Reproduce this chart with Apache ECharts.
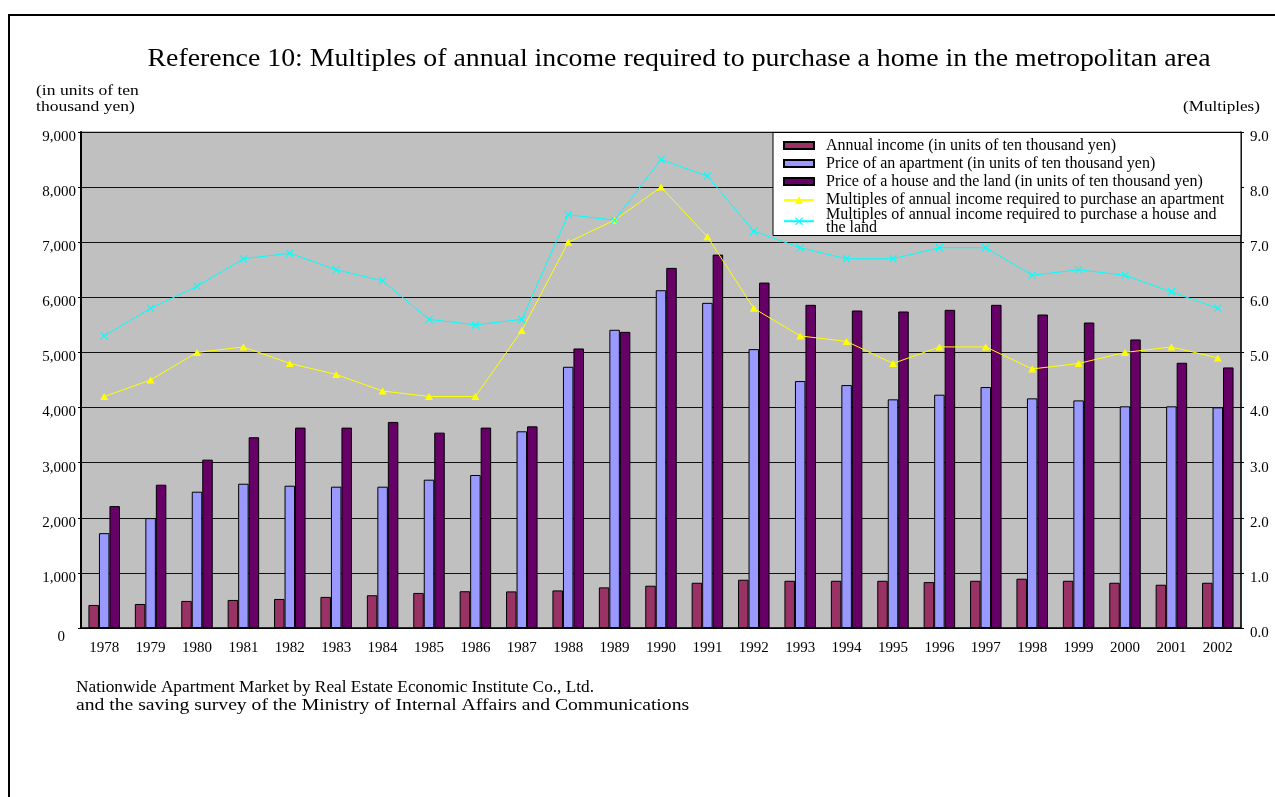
<!DOCTYPE html>
<html><head><meta charset="utf-8">
<script src="https://cdn.jsdelivr.net/npm/echarts@6/dist/echarts.min.js"></script>
<style>html,body{margin:0;padding:0;background:#fff}#c{width:1275px;height:797px}</style>
</head><body><div id="c"></div>
<script>
const years = ['1978','1979','1980','1981','1982','1983','1984','1985','1986','1987','1988','1989','1990','1991','1992','1993','1994','1995','1996','1997','1998','1999','2000','2001','2002'];
const annualIncome = [418,436,491,509,527,564,594,636,667,664,682,737,767,821,876,857,857,857,833,857,894,857,821,785,821];
const apartmentPrice = [1721,1994,2473,2618,2582,2564,2564,2691,2776,3569,4740,5411,6129,5900,5060,4481,4408,4149,4233,4372,4167,4130,4022,4022,4004];
const housePrice = [2212,2600,3055,3461,3636,3636,3739,3545,3636,3659,5072,5374,6534,6775,6268,5864,5761,5743,5773,5864,5688,5543,5236,4813,4728];
const apartmentMultiple = [4.2,4.5,5.0,5.1,4.8,4.6,4.3,4.2,4.2,5.4,7.0,7.4,8.0,7.1,5.8,5.3,5.2,4.8,5.1,5.1,4.7,4.8,5.0,5.1,4.9];
const houseMultiple = [5.3,5.8,6.2,6.7,6.8,6.5,6.3,5.6,5.5,5.6,7.5,7.4,8.5,8.2,7.2,6.9,6.7,6.7,6.9,6.9,6.4,6.5,6.4,6.1,5.8];
const seriesNames = [
  'Annual income (in units of ten thousand yen)',
  'Price of an apartment (in units of ten thousand yen)',
  'Price of a house and the land (in units of ten thousand yen)',
  'Multiples of annual income required to purchase an apartment',
  'Multiples of annual income required to purchase a house and\nthe land'
];
const titleText = 'Reference 10: Multiples of annual income required to purchase a home in the metropolitan area';
const leftUnit = ['(in units of ten', 'thousand yen)'];
const rightUnit = '(Multiples)';
const sourceLines = ['Nationwide Apartment Market by Real Estate Economic Institute Co., Ltd.',
  'and the saving survey of the Ministry of Internal Affairs and Communications'];

const F = '"Liberation Serif", "Times New Roman", serif';
const xMark = 'path://M0,1 L1,0 L5,4 L9,0 L10,1 L6,5 L10,9 L9,10 L5,6 L1,10 L0,9 L4,5 Z';
function txt(text, x, y, size, sx, align) {
  return {type: 'text', z: 6, x: x, y: y, scaleX: sx || 1,
    style: {text: text, font: size + 'px ' + F, fill: '#000', align: align || 'left', verticalAlign: 'middle'}};
}
const chart = echarts.init(document.getElementById('c'), null, {renderer: 'canvas'});
const barBase = {type: 'bar', barWidth: 10.5, barGap: '0%', barCategoryGap: '32%'};
const lg = {fontFamily: F, fontSize: 16, color: '#000', padding: [0, 0, 0, 7]};
chart.setOption({
  animation: false,
  backgroundColor: '#fff',
  grid: {left: 81, right: 34, top: 132, bottom: 169, show: true, backgroundColor: '#C0C0C0',
    borderColor: '#808080', borderWidth: 1},
  legend: [{
    data: [
      {name: seriesNames[0], icon: 'rect'},
      {name: seriesNames[1], icon: 'rect'},
      {name: seriesNames[2], icon: 'rect'}
    ], orient: 'vertical', left: 783, top: 137.5, padding: 0,
    itemGap: 2, itemWidth: 30, itemHeight: 7, z: 10,
    textStyle: Object.assign({lineHeight: 14}, lg)
  }, {
    data: [seriesNames[3]], orient: 'vertical', left: 783, top: 192, padding: 0,
    itemWidth: 30, itemHeight: 10, z: 10,
    textStyle: Object.assign({lineHeight: 14}, lg)
  }, {
    data: [seriesNames[4]], orient: 'vertical', left: 783, top: 206.5, padding: 0,
    itemWidth: 30, itemHeight: 10, z: 10,
    textStyle: Object.assign({lineHeight: 13.4}, lg)
  }],
  graphic: [
    {type: 'rect', z: 5, shape: {x: 773, y: 132.5, width: 468, height: 103}, style: {fill: '#fff', stroke: '#000', lineWidth: 1}},
    {type: 'line', z: 5, shape: {x1: 8, y1: 15, x2: 1275, y2: 15}, style: {stroke: '#000', lineWidth: 2}},
    {type: 'line', z: 5, shape: {x1: 9, y1: 14, x2: 9, y2: 797}, style: {stroke: '#000', lineWidth: 2}},
    txt(titleText, 679, 59, 26, 1.07, 'center'),
    txt(leftUnit[0], 36, 91, 15, 1.17),
    txt(leftUnit[1], 36, 107, 15, 1.17),
    txt(rightUnit, 1183, 107, 15, 1.14),
    txt(sourceLines[0], 76, 687.5, 17, 1.016),
    txt(sourceLines[1], 76, 705.5, 17, 1.155)
  ],
  xAxis: {type: 'category', data: years, boundaryGap: true,
    axisLine: {lineStyle: {color: '#000', width: 1.5}},
    axisTick: {inside: true, length: 3, lineStyle: {color: '#000'}},
    axisLabel: {fontFamily: F, fontSize: 15, color: '#000', margin: 13}},
  yAxis: [{
    type: 'value', min: 0, max: 9000, interval: 1000,
    axisLine: {show: true, lineStyle: {color: '#000', width: 2}},
    axisTick: {show: true, length: 3, lineStyle: {color: '#000'}},
    splitLine: {lineStyle: {color: '#111', width: 1}},
    axisLabel: {fontFamily: F, fontSize: 15, color: '#000', margin: 5, verticalAlign: 'top', lineHeight: 10,
      formatter: v => v === 0 ? '{z|0}' : v.toLocaleString('en-US'),
      rich: {z: {fontFamily: F, fontSize: 15, color: '#000', lineHeight: 10, padding: [8, 11, 0, 0]}}}
  }, {
    type: 'value', min: 0, max: 9, interval: 1,
    axisLine: {show: true, lineStyle: {color: '#000', width: 1.5}},
    axisTick: {show: true, length: 3, lineStyle: {color: '#000'}},
    splitLine: {show: false},
    axisLabel: {fontFamily: F, fontSize: 15, color: '#000', margin: 9, verticalAlign: 'top', lineHeight: 10,
      formatter: v => v.toFixed(1)}
  }],
  series: [
    Object.assign({}, barBase, {name: seriesNames[0], data: annualIncome, itemStyle: {color: '#993366', borderColor: '#000', borderWidth: 1}}),
    Object.assign({}, barBase, {name: seriesNames[1], data: apartmentPrice, itemStyle: {color: '#9999FF', borderColor: '#000', borderWidth: 1}}),
    Object.assign({}, barBase, {name: seriesNames[2], data: housePrice, itemStyle: {color: '#660066', borderColor: '#000', borderWidth: 1}}),
    {type: 'line', name: seriesNames[3], yAxisIndex: 1, data: apartmentMultiple, z: 4,
      symbol: 'triangle', symbolSize: [8, 7], showAllSymbol: true,
      lineStyle: {color: '#FFFF00', width: 1}, itemStyle: {color: '#FFFF00'}},
    {type: 'line', name: seriesNames[4], yAxisIndex: 1, data: houseMultiple, z: 4,
      symbol: xMark, symbolSize: 8, showAllSymbol: true,
      lineStyle: {color: '#00FFFF', width: 1}, itemStyle: {color: '#00FFFF'}}
  ]
});
</script></body></html>
